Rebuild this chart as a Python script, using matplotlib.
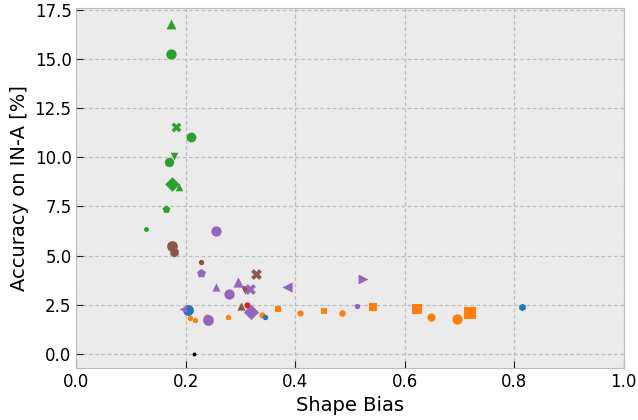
import matplotlib
matplotlib.use("Agg")
import matplotlib.pyplot as plt

plt.style.use("bmh")

# ---- data (shape bias, accuracy on IN-A [%]) per family ----
green_x = [0.172, 0.1725, 0.182, 0.209, 0.178, 0.170, 0.175, 0.188, 0.163, 0.128]
green_y = [16.75, 15.24, 11.52, 11.05, 10.08, 9.76, 8.66, 8.51, 7.38, 6.35]

brown_x = [0.175, 0.179, 0.227, 0.328, 0.308, 0.300]
brown_y = [5.51, 5.18, 4.67, 4.08, 3.25, 2.42]

purple_x = [0.255, 0.227, 0.295, 0.385, 0.523, 0.255, 0.318, 0.279, 0.319, 0.195, 0.241, 0.512]
purple_y = [6.26, 4.13, 3.65, 3.40, 3.84, 3.40, 3.33, 3.03, 2.16, 2.28, 1.73, 2.44]

blue_x = [0.204, 0.345, 0.814]
blue_y = [2.23, 1.91, 2.39]

red_x = [0.312]
red_y = [2.52]

black_x = [0.2145]
black_y = [0.03]

orange_x = [0.207, 0.216, 0.238, 0.236, 0.277, 0.339, 0.368, 0.408, 0.452, 0.485,
            0.541, 0.622, 0.647, 0.695, 0.720]
orange_y = [1.86, 1.71, 1.91, 1.81, 1.89, 1.98, 2.30, 2.08, 2.21, 2.10,
            2.40, 2.30, 1.88, 1.76, 2.11]

x_ticks = [0.0, 0.2, 0.4, 0.6, 0.8, 1.0]
y_ticks = [0.0, 2.5, 5.0, 7.5, 10.0, 12.5, 15.0, 17.5]

# ---- styles ----
styles = {
    "green": ("#2ca02c", ["^", "o", "X", "o", "v", "o", "D", "^", "p", "o"],
              [50, 55, 50, 50, 30, 45, 55, 30, 35, 12]),
    "brown": ("#8c564b", ["o", "h", "o", "X", "v", "^"],
              [60, 50, 15, 60, 40, 35]),
    "purple": ("#9467bd", ["o", "p", "^", "<", ">", "^", "X", "o", "D", "<", "o", "o"],
               [55, 45, 55, 55, 50, 35, 60, 55, 60, 30, 60, 15]),
    "blue": ("#1f77b4", ["o", "o", "h"], [60, 15, 30]),
    "red": ("#d62728", ["o"], [20]),
    "black": ("black", ["o"], [8]),
    "orange": ("#ff7f0e", ["o", "o", "o", "o", "o", "o", "s", "o", "s", "o",
                           "s", "s", "o", "o", "s"],
               [15, 15, 20, 20, 15, 20, 20, 20, 25, 22, 35, 45, 35, 55, 65]),
}
data = {
    "green": (green_x, green_y),
    "brown": (brown_x, brown_y),
    "purple": (purple_x, purple_y),
    "blue": (blue_x, blue_y),
    "red": (red_x, red_y),
    "black": (black_x, black_y),
    "orange": (orange_x, orange_y),
}

fig = plt.figure(figsize=(6.38, 4.2), dpi=100)
ax = fig.add_axes([0.1197, 0.124, 0.858, 0.858])
ax.set_facecolor("#ebebeb")

for key in ["orange", "blue", "red", "black", "brown", "purple", "green"]:
    xs, ys = data[key]
    color, markers, sizes = styles[key]
    for x, y, m, s in zip(xs, ys, markers, sizes):
        ax.scatter([x], [y], marker=m, s=s, color=color, linewidths=0, zorder=3)

ax.set_xlim(0.0, 1.0)
ax.set_ylim(-0.7, 17.6)
ax.set_xticks(x_ticks)
ax.set_yticks(y_ticks)
ax.set_xticklabels([f"{t:.1f}" for t in x_ticks])
ax.set_yticklabels([f"{t:.1f}" for t in y_ticks])
ax.tick_params(direction="in", length=5, color="#222222", labelsize=12)
ax.set_xlabel("Shape Bias", fontsize=14)
ax.set_ylabel("Accuracy on IN-A [%]", fontsize=14)
ax.grid(True, linestyle=(0, (3, 2)), color="#bdbdbd", linewidth=0.9)
ax.set_axisbelow(True)
for sp in ax.spines.values():
    sp.set_color("#bcbcbc")

fig.savefig("out.png", dpi=100)
